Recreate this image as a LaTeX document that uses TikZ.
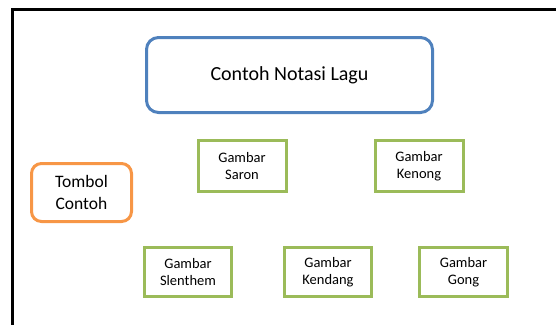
\documentclass[tikz,border=0pt]{standalone}
\usepackage{fontspec}
\setmainfont{Carlito}
\usetikzlibrary{positioning}
\definecolor{judulblue}{RGB}{79,129,189}
\definecolor{tombolorange}{RGB}{247,150,70}
\definecolor{gambargreen}{RGB}{155,187,89}

\begin{document}
\begin{tikzpicture}[x=1pt,y=-1pt,
        judul/.style={draw=judulblue, line width=3pt, rounded corners=12pt, minimum width=286pt, minimum height=75pt, font=\fontsize{20}{24}\selectfont},
        tombol/.style={draw=tombolorange, line width=3pt, rounded corners=10pt, minimum width=100pt, minimum height=58pt, align=center, font=\fontsize{17.5}{21.5}\selectfont},
        gambar/.style={draw=gambargreen, line width=3pt, minimum width=88pt, minimum height=51pt, align=center, font=\fontsize{14.5}{17}\selectfont}]
        \useasboundingbox (0,0) rectangle (556,324);
        \draw[line width=3pt] (12.5,330) -- (12.5,9.5) -- (560,9.5);
        \node[judul] (judul) at (289.5,75) {Contoh Notasi Lagu};
        \node[tombol] (tombol) at (81.5,192.5) {Tombol\\Contoh};
        \node[gambar] (saron) at (242,166) {Gambar\\Saron};
        \node[gambar] (kenong) at (419,166) {Gambar\\Kenong};
        \node[gambar, minimum width=87pt, minimum height=49pt] (slenthem) at (188,272) {Gambar\\Slenthem};
        \node[gambar, minimum width=87pt, minimum height=49pt] (kendang) at (328,272) {Gambar\\Kendang};
        \node[gambar, minimum width=88pt, minimum height=49pt] (gong) at (463.5,272) {Gambar\\Gong};
\end{tikzpicture}
\end{document}
